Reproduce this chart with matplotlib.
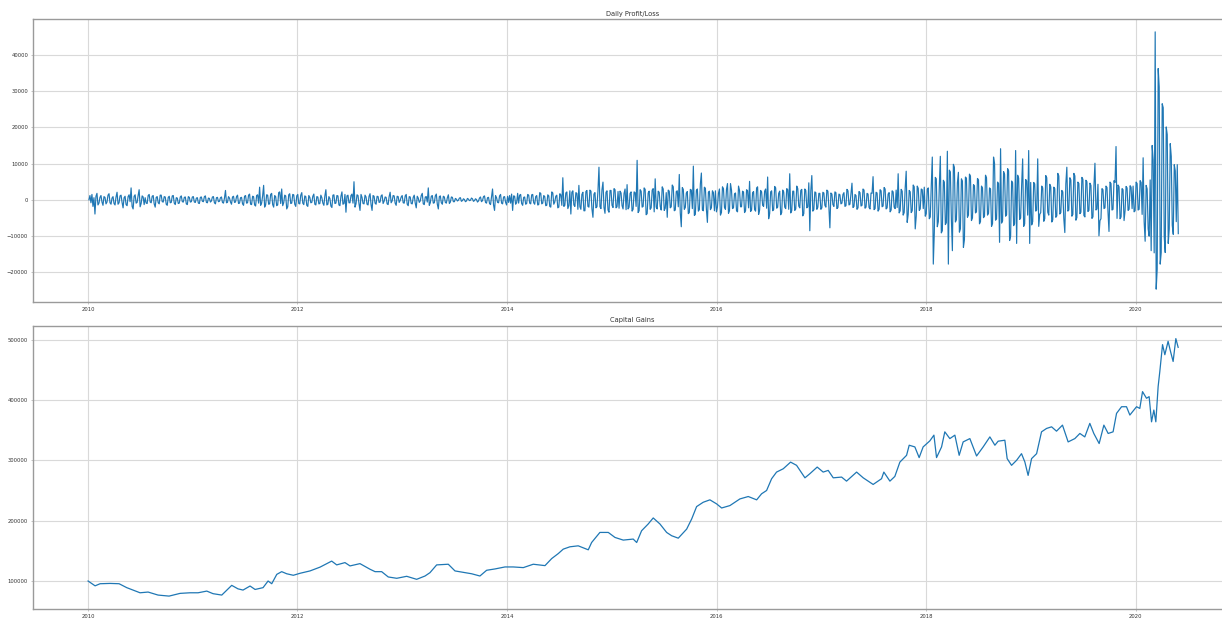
import numpy as np
import pandas as pd
import matplotlib
matplotlib.use('Agg')
import matplotlib.pyplot as plt
import matplotlib.dates as mdates

# daily P/L in hundreds, two samples a week
pl_start = '2010-01-04'
pl_hundreds = [
    # 2010
    0, 12, -8, 15, -18, 6, -39, 10, 18, -14, -9, 7, 12, -6, -15, 9, 7, -11, -6, 13, 17, -8, -12, 5, 9, -10,
    -14, 8, 21, -12, -8, 11, 13, -7, -22, 6, 10, -13, -16, 9, 14, -5, 33, -18, -25, 10, 14, -9, -7, 12, 28, -19,
    -10, 11, 8, -13, 6, -9, -10, 12, 15, -6, -8, 10, 12, -11, -20, 7, 9, -8, -11, 13, 13, -5, -6, 9, 8, -12,
    -15, 7, 10, -8, -7, 11, 12, -9, -13, 6, 5, -10, -9, 8, 11, -5, -6, 7, 8, -11, -13, 9, 7, -6, -5, 8,
    # 2011
    9, -6, -7, 5, 6, -9, -10, 7, 8, -4, -5, 9, 11, -7, -8, 5, 4, -6, -3, 8, 9, -8, -11, 6, 7, -5,
    -4, 6, 8, -7, -9, 5, 26, -8, -7, 9, 5, -6, -12, 8, 10, -7, -6, 9, 13, -10, -9, 6, 7, -11, -15, 10,
    12, -9, -8, 13, 16, -12, -13, 10, 9, -14, -17, 12, 14, -9, 35, -15, -9, 11, 40, -20, -14, 14, 13, -12, -11, 15,
    18, -13, -20, 12, 9, -16, -14, 20, 22, -10, 30, -16, -8, 13, 11, -25, -19, 14, 17, -10, -9, 15, 14, -12, -18, 11,
    # 2012
    15, -10, -11, 13, 20, -9, -13, 11, 9, -15, -18, 12, 7, -8, -7, 10, 16, -12, -14, 9, 8, -11, -10, 13, 6, -9,
    -15, 11, 28, -14, -12, 9, 4, -17, -21, 13, 14, -10, -9, 12, 11, -14, -16, 10, 22, -12, -10, 15, -34, 11, 13, -8,
    -8, 12, 16, -9, 50, -20, -11, 14, 12, -11, -29, 15, 7, -10, -11, 13, 8, -12, -14, 10, 17, -13, -29, 12, 10, -9,
    -12, 10, 9, -7, -6, 11, 14, -10, -4, 8, 7, -11, -13, 9, 21, -8, -3, 12, 11, -9, -15, 10, 9, -7, -2, 8,
    # 2013
    12, -8, -9, 11, 15, -12, -16, 9, 8, -10, -11, 7, 13, -9, -22, 10, 5, -7, -3, 12, 18, -11, -13, 8, 9, -6,
    33, -15, -8, 10, 12, -9, -8, 11, 16, -12, -25, 9, 11, -8, -12, 10, 8, -7, -9, 6, 14, -10, -6, 8, 7, -5,
    -5, 4, 2, -3, -1, 5, 6, -4, -2, 3, 1, -5, -3, 4, 2, -2, -1, 5, 3, -4, -2, 3, 1, -6, -3, 5,
    8, -5, -2, 9, 11, -7, -9, 6, 7, -10, -13, 9, 30, -14, -29, 12, 6, -7, -8, 11, 15, -9, -11, 8, 9, -7,
    # 2014
    -14, 10, -7, 12, -9, 16, -29, 11, 10, -12, -8, 18, -9, 13, 15, -10, -15, 7, 8, -12, -10, 15, 13, -9, -11, 14,
    15, -8, -12, 9, 12, -14, -13, 20, 18, -11, -9, 12, 9, -16, -15, 14, 11, -18, -20, 22, 19, -12, -6, 10, 13, -22,
    -20, 17, 14, -15, 61, -18, -15, 19, 22, -24, -16, 25, -39, 21, 25, -14, -18, 20, 18, -26, 40, -19, -26, 15, 21, -30,
    -30, 23, 26, -18, -20, 27, 24, -25, -48, 16, 20, -22, -19, 25, 90, -19, -24, 28, 49, -21, -37, 21, 25, -28, -34, 26,
    # 2015
    26, -15, -21, 31, 28, -22, -19, 23, -23, 24, 19, -16, -25, 18, 30, -27, 42, -25, -20, 18, 22, -31, -26, 22, 20, -18,
    109, -35, -30, 28, 24, -20, -18, 33, 29, -41, -38, 19, 24, -26, -22, 27, 31, -33, 58, -20, -25, 24, 21, -18, -28, 36,
    30, -29, -23, 20, -48, 27, 24, -22, -19, 41, 36, -30, -28, 23, 25, -19, 70, -36, -74, 34, 29, -26, -21, 19, 23, -38,
    -35, 29, 27, -24, 93, -43, -40, 26, 30, -31, -27, 44, 74, -28, -30, 35, 32, -26, -62, 21, 24, -27, -22, 25, 20, -30,
    # 2016
    25, -33, -20, 18, 30, -42, -35, 36, 31, -21, -26, 29, 45, -37, -30, 45, 27, -24, -22, 17, 19, -30, -33, 38, 26, -19,
    -19, 24, 22, -35, -30, 28, 25, -22, 51, -32, -28, 20, 23, -27, -31, 33, 36, -40, -28, 26, 22, -15, -18, 24, 30, -23,
    63, -52, -38, 22, 25, -30, -27, 37, 33, -23, -20, 18, 24, -41, -35, 27, 22, -20, -24, 31, 28, -26, 72, -36, -30, 24,
    24, -29, -25, 38, 31, -17, -22, 26, 29, -44, -38, 30, 26, -22, -19, 47, -85, 25, 67, -31, -27, 22, 20, -26, -20, 18,
    # 2017
    18, -26, -22, 21, 19, -15, -20, 27, 24, -20, -77, 19, 16, -13, -18, 22, 20, -24, -21, 16, 14, -11, -9, 15, 20, -18,
    -16, 29, 25, -14, -12, 17, 46, -21, -18, 15, 12, -26, -22, 23, 20, -17, -15, 30, 27, -23, -20, 18, 16, -21, -25, 19,
    18, 64, -27, -24, 21, 19, -31, -26, 28, 25, -19, -17, 34, 30, -25, -22, 16, 20, -33, -28, 25, 22, -20, -24, 27, -21,
    72, -36, -30, 29, 24, -42, -35, 33, 79, -62, -40, 26, 22, -35, -30, 41, 36, -80, -45, 38, 32, -29, -25, 30, 28, -24,
    # 2018
    35, -45, -38, 29, 33, -52, -47, 41, 118, -177, -90, 62, 58, -74, -60, 38, 120, -91, -85, 54, 49, -68, -63, 134, -177, 82,
    77, -53, -140, 98, 90, -61, -55, 47, 76, -89, -80, 58, 52, -131, -110, 63, 60, -48, -42, 71, 66, -57, -50, 42, 39, -36,
    -33, 59, 55, -66, -60, 38, 33, -49, -45, 68, 61, -42, -37, 33, 30, -73, -65, 118, 100, -56, -52, 49, 45, -117, 141, -64,
    -58, 78, 70, -45, -41, 86, 80, -112, -100, 52, 47, -71, -65, 136, -120, 68, 60, -54, -50, 41, 113, -73, -66, 56, 52, -42,
    # 2019
    136, -120, 48, -69, -60, 48, 44, -31, -28, 113, -73, -40, -35, 38, 33, -59, -52, 67, 61, -34, -42, 43, 36, -61, -55, 35,
    31, -48, -44, 73, 66, -39, -35, 26, 22, -52, -90, 44, 90, -31, -28, 61, 55, -45, -40, 73, 66, -56, -49, 49, 45, -38,
    -34, 62, 57, -43, -47, 54, 50, -32, -29, 46, 40, -51, -47, 39, 101, -28, -25, 43, -99, -57, -52, 31, 28, -24, -22, 38,
    34, -33, -87, 49, 45, -28, -26, 53, 48, 147, -51, 41, 36, -52, -47, 31, 28, -57, -30, 37, 33, -29, -26, 39, 35, -24,
    # 2020
    38, -33, -30, 49, 45, -28, -26, 53, 48, -40, 116, -60, -114, 40, 30, -80, -100, 55, -140, 150,
    110, -146, 463, -246, -191, 362, 311, -177, -145, 265, 254, -101, -145, 201, 180, -120, -80, 155, 120, -70,
    -95, 97, 80, -60, 97, -93,
]

# capital gains (time as decimal year)
cg_years = [
    2010.000, 2010.067, 2010.115, 2010.210, 2010.296, 2010.369, 2010.429, 2010.496,
    2010.573, 2010.668, 2010.773, 2010.878, 2010.973, 2011.050, 2011.133, 2011.193,
    2011.276, 2011.307, 2011.371, 2011.431, 2011.479, 2011.546, 2011.594, 2011.670,
    2011.718, 2011.753, 2011.801, 2011.848, 2011.896, 2011.959, 2012.023, 2012.118,
    2012.214, 2012.325, 2012.373, 2012.452, 2012.500, 2012.595, 2012.691, 2012.739,
    2012.802, 2012.865, 2012.946, 2013.041, 2013.136, 2013.216, 2013.263, 2013.327,
    2013.438, 2013.502, 2013.597, 2013.661, 2013.740, 2013.804, 2013.884, 2013.979,
    2014.058, 2014.154, 2014.249, 2014.361, 2014.425, 2014.488, 2014.535, 2014.599,
    2014.678, 2014.774, 2014.806, 2014.885, 2014.965, 2015.029, 2015.108, 2015.203,
    2015.236, 2015.283, 2015.346, 2015.394, 2015.458, 2015.522, 2015.570, 2015.633,
    2015.713, 2015.761, 2015.808, 2015.871, 2015.935, 2015.999, 2016.047, 2016.126,
    2016.221, 2016.301, 2016.381, 2016.428, 2016.476, 2016.524, 2016.571, 2016.635,
    2016.705, 2016.762, 2016.842, 2016.889, 2016.959, 2017.016, 2017.064, 2017.112,
    2017.192, 2017.239, 2017.335, 2017.398, 2017.493, 2017.573, 2017.595, 2017.653,
    2017.700, 2017.748, 2017.812, 2017.837, 2017.891, 2017.932, 2017.970, 2018.034,
    2018.073, 2018.098, 2018.146, 2018.177, 2018.225, 2018.273, 2018.314, 2018.352,
    2018.416, 2018.480, 2018.543, 2018.607, 2018.655, 2018.686, 2018.750, 2018.772,
    2018.814, 2018.862, 2018.909, 2018.941, 2018.972, 2019.005, 2019.053, 2019.100,
    2019.148, 2019.196, 2019.243, 2019.300, 2019.354, 2019.418, 2019.466, 2019.513,
    2019.561, 2019.599, 2019.650, 2019.695, 2019.736, 2019.783, 2019.816, 2019.864,
    2019.911, 2019.943, 2020.007, 2020.038, 2020.064, 2020.102, 2020.127, 2020.150,
    2020.172, 2020.191, 2020.213, 2020.229, 2020.255, 2020.277, 2020.308, 2020.331,
    2020.356, 2020.382, 2020.404,
]
cg_values = [
    100000, 92000, 95500, 96000, 95500, 89000, 85000, 80500,
    81700, 76700, 75000, 79500, 80500, 80500, 83300, 79000,
    76700, 82000, 92800, 87000, 85000, 91700, 86000, 89000,
    100000, 95500, 111000, 115500, 112000, 109500, 112800, 116700,
    123000, 133000, 126700, 130500, 125000, 128800, 119500, 115500,
    115500, 106700, 104500, 107800, 102800, 108300, 113800, 126700,
    127800, 116700, 113800, 112000, 108300, 117800, 120000, 123300,
    123300, 122200, 127800, 125500, 137200, 145500, 152800, 156700,
    158300, 151700, 163800, 180500, 180500, 172200, 167800, 169500,
    163800, 183300, 194500, 204500, 194500, 180500, 175000, 171000,
    186000, 202800, 223300, 230500, 234500, 227800, 221000, 225000,
    236000, 240000, 234500, 244500, 250000, 269500, 280500, 286000,
    297000, 291700, 271000, 277800, 288800, 280500, 283300, 271000,
    272200, 265500, 280500, 271000, 260000, 269500, 280500, 265500,
    273300, 297000, 308300, 325000, 322200, 304500, 322200, 332200,
    341700, 304500, 322200, 347200, 336000, 341700, 308300, 330500,
    336000, 307200, 322200, 338800, 325000, 331700, 333300, 302800,
    291700, 300000, 311000, 297200, 275000, 302800, 311000, 347200,
    352800, 355500, 348300, 358300, 330500, 336000, 344500, 338800,
    361200, 344500, 327800, 358300, 344500, 347200, 377800, 388800,
    388800, 375000, 388800, 386000, 413800, 402800, 405500, 363800,
    383300, 363800, 422200, 447200, 491700, 475000, 497200, 480500,
    463800, 501700, 487200,
]

titles = ['Daily Profit/Loss', 'Capital Gains']


def yearsToDates(years):
    '''
    小数の年を日付に変換する
    '''
    days = (np.array(years) - 2010.0) * 365.25
    return pd.Timestamp('2010-01-01') + pd.to_timedelta(days, unit='D')


def styleAxis(ax, title):
    ax.set_title(title, fontsize=4.8, color='#333333', pad=2.5)
    ax.grid(True, color='#d9d9d9', linewidth=0.8)
    ax.set_axisbelow(True)
    for spine in ax.spines.values():
        spine.set_color('#9a9a9a')
        spine.set_linewidth(1.0)
    ax.tick_params(labelsize=3.8, labelcolor='#333333', color='#9a9a9a',
                   length=1.5, width=0.4, pad=2)
    ax.xaxis.set_major_locator(mdates.YearLocator(2))
    ax.xaxis.set_major_formatter(mdates.DateFormatter('%Y'))
    ax.set_xlim(pd.Timestamp('2009-06-23'), pd.Timestamp('2020-12-01'))


pl_values = np.array(pl_hundreds) * 100
pl_dates = pd.date_range(pl_start, periods=len(pl_values), freq='84h')
cg_dates = yearsToDates(cg_years)

fig = plt.figure(figsize=(12.22, 6.19), dpi=100)
# right edge of both panels runs past the canvas, as in the screenshot
ax1 = fig.add_axes([0.027, 0.5121, 0.981, 0.4572])
ax2 = fig.add_axes([0.027, 0.0162, 0.981, 0.4576])

ax1.plot(pl_dates, pl_values, color='#1f77b4', linewidth=0.85)
ax1.set_yticks(range(-20000, 50000, 10000))
styleAxis(ax1, titles[0])

ax2.plot(cg_dates, cg_values, color='#1f77b4', linewidth=0.9)
ax2.set_yticks(range(100000, 600000, 100000))
styleAxis(ax2, titles[1])

plt.savefig('out.png', dpi=100)
